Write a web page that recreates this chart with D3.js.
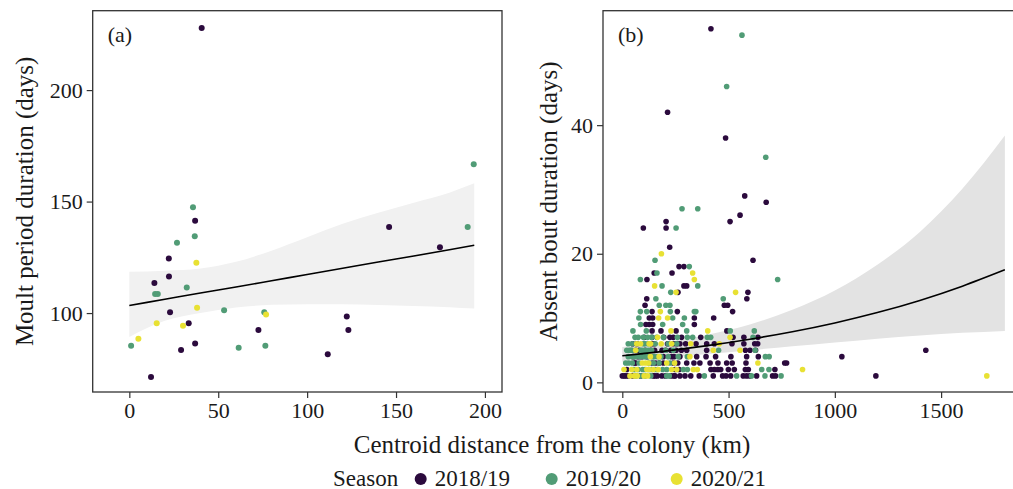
<!DOCTYPE html>
<html>
<head>
<meta charset="utf-8">
<script src="https://cdn.jsdelivr.net/npm/d3@7"></script>
<style>
  body { margin: 0; background: #fff; }
  svg text { font-family: "Liberation Serif", "DejaVu Serif", serif; fill: #1a1a1a; }
</style>
</head>
<body>
<div id="chart"></div>
<script>
// season names and colours
var seasons = ["2018/19", "2019/20", "2020/21"];
var seasonColors = ["#2b0a3d", "#519c76", "#e8e133"];

// panel (a): [centroid distance km, moult period days]
var moult1819 = [[12.2,71.3],[14.1,113.5],[22.2,124.5],[22.3,116.4],[22.9,100.4],[29.1,83.4],[33.4,95.4],
  [37.0,141.4],[37.0,86.4],[40.7,227.8],[72.6,92.4],[111.6,81.5],[122.3,98.5],[123.2,92.4],[146.1,138.6],[174.7,129.5]];
var moult1920 = [[1.0,85.3],[14.5,108.5],[16.0,108.5],[26.8,131.5],[32.3,111.5],[35.8,147.5],[36.8,134.5],
  [53.3,101.3],[61.5,84.4],[75.9,100.4],[76.5,85.3],[190.3,138.6],[193.7,166.7]];
var moult2021 = [[5.1,88.5],[15.4,95.4],[30.2,94.3],[37.7,122.6],[38.1,102.4],[76.9,99.4]];

// panel (a) fitted line and 95% band, read at these distances
var fitA_x   = [0, 20, 40, 60, 80, 100, 120, 140, 160, 180, 194];
var fitA_mid = [103.4, 106.2, 109.0, 111.7, 114.5, 117.3, 120.1, 122.9, 125.6, 128.4, 130.4];
var fitA_lo  = [89.3, 96.5, 100.0, 102.5, 103.7, 104.0, 104.0, 103.6, 103.2, 102.6, 102.0];
var fitA_hi  = [118.5, 119.0, 120.0, 123.0, 128.0, 134.0, 140.0, 145.0, 149.5, 154.0, 158.2];

// panel (b): [centroid distance km, absent bout days]
var absent1819 = [[417,55],[213,42],[486,38],[576,29],[677,28],[99,24],[206,25],[206,24],[507,25],[554,26],
  [223,21],[615,19],[1033,4],[1193,1],[1428,5],
  [267,18],[290,18],[150,17],[234,17],[116,16],[290,15],[303,15],[591,14],[262,14],[586,13],[115,13],
  [480,12],[496,12],[107,12],[519,11],[140,11],[259,11],[430,10],[127,10],[143,10],[339,10],
  [111,9],[127,9],[143,9],[339,9],[140,8],[182,8],[253,8],[492,8],
  [140,7],[195,7],[279,7],[369,7],[521,7],[572,7],[638,7],[103,7],[224,7],[240,7],
  [49,6],[69,6],[213,6],[240,6],[256,6],[271,6],[298,6],[347,6],[397,6],[433,6],[516,6],[572,6],[623,6],[637,6],
  [138,6],[150,6],
  [134,5],[152,5],[187,5],[228,5],[253,5],[278,5],[303,5],[397,5],[579,5],[627,5],[601,5],
  [63,5],[79,5],[107,5],[204,5],
  [52,4],[116,4],[193,4],[243,4],[271,4],[350,4],[394,4],[439,4],[511,4],[585,4],[640,4],[75,4],[91,4],[232,4],
  [58,3],[174,3],[261,3],[303,3],[337,3],[365,3],[413,3],[450,3],[491,3],[517,3],[582,3],[764,3],[773,3],
  [63,3],[141,3],[157,3],[193,3],[240,3],
  [21,2],[417,2],[433,2],[449,2],[463,2],[499,2],[527,2],[579,2],[593,2],[718,2],[248,2],[267,2],
  [0,1],[17,1],[49,1],[86,1],[146,1],[165,1],[186,1],[203,1],[243,1],[271,1],[295,1],[322,1],[362,1],[428,1],
  [472,1],[488,1],[510,1],[569,1],[585,1],[632,1],[707,1],[721,1],[600,1],[9,1],[28,1],[154,1],[229,1],[248,1]];
var absent1920 = [[563,54],[491,46],[675,35],[281,27],[355,27],[253,24],[154,19],[731,16],
  [315,18],[163,17],[85,16],[187,15],[355,15],[228,14],[475,13],[158,13],[174,12],[205,12],[224,12],
  [85,11],[115,11],[226,11],[339,11],[346,11],[78,10],[237,10],[292,10],[86,9],[190,9],[284,9],
  [50,8],[113,8],[303,8],[508,8],[621,8],
  [60,7],[99,7],[119,7],[162,7],[259,7],[306,7],[331,7],[400,7],[416,7],[615,7],[75,7],[138,7],[193,7],
  [28,6],[99,6],[155,6],[47,6],[107,6],[122,6],[216,6],[256,6],
  [21,5],[33,5],[46,5],[86,5],[110,5],[204,5],[453,5],[625,5],[41,5],[94,5],[122,5],[138,5],[240,5],
  [28,4],[83,4],[141,4],[216,4],[306,4],[673,4],[691,4],[47,4],[63,4],[103,4],[119,4],[150,4],[166,4],[182,4],[263,4],
  [30,3],[146,3],[16,3],[47,3],[79,3],[126,3],[173,3],[224,3],
  [52,2],[96,2],[124,2],[165,2],[190,2],[209,2],[287,2],[306,2],[656,2],[690,2],[60,2],[75,2],[107,2],[138,2],[154,2],
  [64,1],[221,1],[386,1],[538,1],[608,1],[747,1],[671,1],[88,1],[107,1],[134,1],[209,1]];
var absent2021 = [[184,20],[1715,1],[331,17],[339,16],[152,15],[253,14],[533,14],[179,11],[171,10],[213,10],
  [229,8],[402,8],[507,7],[166,7],[86,6],[126,6],[133,6],[183,6],[322,6],[456,6],[68,6],[232,6],
  [63,5],[428,5],[554,5],[173,4],[318,4],[132,4],[94,3],[124,3],[209,3],[246,3],[638,3],[110,3],
  [8,2],[68,2],[146,2],[232,2],[256,2],[334,2],[353,2],[848,2],[44,2],[115,2],[126,2],[169,2],
  [36,1],[103,1],[119,1],[56,1],[70,1]];

// panel (b) fitted curve and 95% band, read at these distances
var fitB_x   = [0, 200, 400, 600, 800, 1000, 1200, 1400, 1600, 1800];
var fitB_mid = [4.14, 4.86, 5.71, 6.71, 7.87, 9.24, 10.85, 12.74, 14.96, 17.5];
var fitB_lo  = [3.2, 3.8, 4.4, 5.0, 5.6, 6.2, 6.8, 7.3, 7.7, 8.0];
var fitB_hi  = [5.5, 6.2, 7.4, 9.0, 11.3, 14.3, 18.3, 23.4, 30.1, 38.4];

var xTicksA = [0, 50, 100, 150, 200];
var yTicksA = [100, 150, 200];
var xTicksB = [0, 500, 1000, 1500];
var yTicksB = [0, 20, 40];

var w = 1013, h = 489;
var svg = d3.select("#chart").append("svg").attr("width", w).attr("height", h);

var panelTop = 10.7, panelBottom = 392;

function drawPanel(opt) {
  var x = d3.scaleLinear().domain(opt.xDomain).range(opt.xRange);
  var y = d3.scaleLinear().domain(opt.yDomain).range([panelBottom, panelTop]);
  var g = svg.append("g");

  var band = opt.fitX.map(function(d, i) { return {x: d, lo: opt.lo[i], hi: opt.hi[i], mid: opt.mid[i]}; });

  g.append("path")
    .datum(band)
    .attr("fill", opt.bandColor)
    .attr("d", d3.area().curve(d3.curveMonotoneX)
      .x(function(d) { return x(d.x); })
      .y0(function(d) { return y(d.lo); })
      .y1(function(d) { return y(d.hi); }));

  // points, one layer per season
  opt.points.forEach(function(pts, s) {
    g.append("g").selectAll("circle")
      .data(pts)
      .enter()
      .append("circle")
      .attr("cx", function(d) { return x(d[0]); })
      .attr("cy", function(d) { return y(d[1]); })
      .attr("r", opt.r)
      .attr("fill", seasonColors[s]);
  });

  g.append("path")
    .datum(band)
    .attr("fill", "none")
    .attr("stroke", "#000")
    .attr("stroke-width", 1.6)
    .attr("d", d3.line().curve(d3.curveMonotoneX)
      .x(function(d) { return x(d.x); })
      .y(function(d) { return y(d.mid); }));

  // frame
  g.append("rect")
    .attr("x", opt.xRange[0]).attr("y", panelTop)
    .attr("width", opt.xRange[1] - opt.xRange[0]).attr("height", panelBottom - panelTop)
    .attr("fill", "none").attr("stroke", "#333").attr("stroke-width", 1.3);

  var xAxis = g.append("g")
    .attr("transform", "translate(0," + panelBottom + ")")
    .call(d3.axisBottom(x).tickValues(opt.xTicks).tickFormat(d3.format("d")).tickSize(6).tickPadding(4));
  var yAxis = g.append("g")
    .attr("transform", "translate(" + opt.xRange[0] + ",0)")
    .call(d3.axisLeft(y).tickValues(opt.yTicks).tickFormat(d3.format("d")).tickSize(6).tickPadding(4));
  [xAxis, yAxis].forEach(function(a) {
    a.select(".domain").remove();
    a.selectAll("line").attr("stroke", "#333").attr("stroke-width", 1.2);
    a.selectAll("text").style("font-size", "22px").attr("fill", "#1a1a1a")
      .style("font-family", '"Liberation Serif", serif');
  });

  g.append("text")
    .attr("x", opt.xRange[0] + 15).attr("y", 42)
    .style("font-size", "22px")
    .text(opt.label);

  g.append("text")
    .attr("transform", "translate(" + opt.titleX + "," + ((panelTop + panelBottom) / 2) + ") rotate(-90)")
    .attr("text-anchor", "middle")
    .style("font-size", "25px")
    .text(opt.yTitle);
}

drawPanel({
  xDomain: [-20.6, 209.6], xRange: [92.7, 502],
  yDomain: [64.6, 235.6],
  fitX: fitA_x, mid: fitA_mid, lo: fitA_lo, hi: fitA_hi,
  bandColor: "#f1f1f1",
  points: [moult1819, moult1920, moult2021],
  r: 3,
  xTicks: xTicksA, yTicks: yTicksA,
  label: "(a)", yTitle: "Moult period duration (days)", titleX: 33
});

drawPanel({
  xDomain: [-90.8, 1890], xRange: [603, 1024],
  yDomain: [-1.5, 57.8],
  fitX: fitB_x, mid: fitB_mid, lo: fitB_lo, hi: fitB_hi,
  bandColor: "#e3e3e3",
  points: [absent1819, absent1920, absent2021],
  r: 2.8,
  xTicks: xTicksB, yTicks: yTicksB,
  label: "(b)", yTitle: "Absent bout duration (days)", titleX: 557
});

// x-axis title shared by both panels
svg.append("text")
  .attr("x", 552).attr("y", 453)
  .attr("text-anchor", "middle")
  .style("font-size", "25px")
  .text("Centroid distance from the colony (km)");

// legend
var legend = svg.append("g");
legend.append("text").attr("x", 333).attr("y", 486).style("font-size", "23px").text("Season");
var legendX = [420.7, 551.7, 676.7];
seasons.forEach(function(s, i) {
  legend.append("circle").attr("cx", legendX[i]).attr("cy", 479).attr("r", 6).attr("fill", seasonColors[i]);
  legend.append("text").attr("x", legendX[i] + 14).attr("y", 486).style("font-size", "23px").text(s);
});
</script>
</body>
</html>
